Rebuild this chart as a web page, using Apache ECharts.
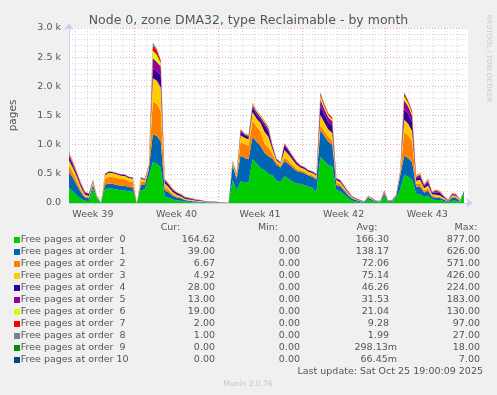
<!DOCTYPE html>
<html><head><meta charset="utf-8">
<script src="https://cdn.jsdelivr.net/npm/echarts@6/dist/echarts.min.js"></script>
<style>html,body{margin:0;padding:0;background:#f0f0f0;}#c{width:497px;height:395px;}</style>
</head><body><div id="c"></div>
<script>
// sample every 8 hours from the start of the graph
const order0 = [260,200,130,70,40,35,250,80,5,240,250,245,230,220,215,200,195,0,220,230,450,700,680,600,110,90,60,45,40,25,20,15,12,10,8,6,6,4,3,3,2,390,220,370,360,350,750,680,600,560,500,470,380,360,460,420,370,330,330,310,280,260,180,790,720,650,620,220,200,140,80,40,25,15,10,60,35,18,15,110,18,25,80,230,480,450,400,160,150,100,120,60,50,50,30,15,40,40,20,165];
const order1 = [270,230,170,110,55,45,60,20,5,75,85,80,80,75,80,75,72,0,90,80,120,480,470,460,110,90,65,50,40,25,20,15,12,10,8,6,6,4,3,3,2,260,190,450,410,400,380,370,380,300,300,290,280,250,260,250,240,220,200,200,190,190,220,460,430,400,380,90,85,70,55,35,25,15,10,35,20,10,10,50,10,12,30,240,330,320,300,120,130,80,90,45,40,35,25,10,50,45,15,39];
const order2 = [110,90,70,45,25,20,25,10,3,100,115,120,120,115,112,100,95,0,60,50,40,560,550,520,60,45,30,20,15,10,8,8,6,5,4,3,4,3,3,2,2,30,45,230,240,230,280,260,250,160,150,80,40,35,60,55,45,35,30,30,25,25,30,90,80,80,75,40,35,25,15,10,6,4,3,10,8,5,4,15,5,6,10,30,400,390,350,50,60,35,40,20,20,20,10,5,20,20,8,7];
const order3 = [90,80,70,45,25,20,30,10,3,60,70,65,62,58,57,55,53,0,50,35,25,400,400,400,60,45,35,25,20,15,12,12,10,8,6,5,8,4,3,3,2,25,30,110,110,110,150,140,140,200,180,80,35,30,130,110,90,75,50,45,40,40,40,170,150,130,125,40,35,25,18,12,8,5,4,10,7,5,4,15,5,6,10,30,220,200,180,50,60,40,50,25,30,25,15,6,20,20,8,5];
const order4 = [60,50,45,40,30,28,15,5,2,15,18,18,17,17,16,15,15,0,15,12,10,170,160,220,40,35,30,30,28,20,18,15,12,8,6,5,4,3,2,3,1,10,12,60,45,45,80,75,70,110,100,45,20,15,80,60,45,40,25,22,22,22,18,160,140,130,125,25,25,20,15,10,7,5,3,5,4,3,3,10,3,4,8,15,180,170,160,40,50,35,50,25,45,40,20,6,15,15,4,28];
const order5 = [45,35,30,25,15,14,10,3,1,6,8,8,7,7,7,7,7,0,8,7,8,170,160,140,25,20,17,15,13,10,10,8,7,5,4,3,3,2,2,2,1,8,10,30,20,20,40,40,40,50,45,20,8,6,25,22,18,12,10,8,8,8,7,110,90,80,75,15,13,12,10,7,5,3,2,4,3,2,2,8,2,3,5,8,150,130,110,30,40,25,35,15,30,25,12,4,12,10,3,13];
const order6 = [25,20,15,10,6,5,6,1,1,2,3,3,3,2,2,2,2,0,5,4,4,130,120,60,10,10,8,6,6,4,5,5,4,3,3,2,4,2,1,1,0,5,8,12,8,8,20,20,18,25,20,10,4,3,10,8,7,5,3,3,3,3,3,60,45,35,35,6,5,5,4,4,3,2,2,3,2,1,1,6,1,2,4,4,70,55,40,15,20,10,15,6,10,10,5,2,8,6,1,19];
const order7 = [12,10,6,3,2,2,3,1,0,1,1,1,1,1,1,1,1,0,2,2,2,95,85,40,5,5,5,4,3,1,2,2,2,1,1,0,0,0,0,0,0,2,3,5,4,4,10,10,8,10,10,3,2,1,4,4,4,2,2,2,2,2,2,40,30,25,25,3,2,3,3,2,1,1,1,3,1,1,1,4,1,2,3,3,50,35,30,5,10,5,10,4,5,5,3,2,5,4,1,2];
const order8 = [8,5,4,2,2,1,1,0,0,1,0,0,0,0,0,0,0,0,0,0,1,20,15,10,0,0,0,0,0,0,0,0,0,0,0,0,0,0,0,0,0,0,2,3,3,3,5,5,4,5,5,2,1,0,1,1,1,1,0,0,0,0,0,15,10,10,10,1,0,0,0,0,0,0,0,0,0,0,0,2,0,0,0,0,15,10,10,0,0,0,0,0,0,0,0,0,0,0,0,1];
const order9 = [0,0,0,0,0,0,0,0,0,0,0,0,0,0,0,0,0,0,0,0,0,15,8,0,0,0,0,0,0,0,0,0,0,0,0,0,0,0,0,0,0,0,0,0,0,0,5,0,0,0,0,0,0,0,0,0,0,0,0,0,0,0,0,5,5,0,0,0,0,0,0,0,0,0,0,0,0,0,0,0,0,0,0,0,5,0,0,0,0,0,0,0,0,0,0,0,0,0,0,0];
const order10 = [0,0,0,0,0,0,0,0,0,0,0,0,0,0,0,0,0,0,0,0,0,7,2,0,0,0,0,0,0,0,0,0,0,0,0,0,0,0,0,0,0,0,0,0,0,0,0,0,0,0,0,0,0,0,0,0,0,0,0,0,0,0,0,0,0,0,0,0,0,0,0,0,0,0,0,0,0,0,0,0,0,0,0,0,0,0,0,0,0,0,0,0,0,0,0,0,0,0,0,0];

const seriesNames = ['Free pages at order  0','Free pages at order  1','Free pages at order  2','Free pages at order  3','Free pages at order  4','Free pages at order  5','Free pages at order  6','Free pages at order  7','Free pages at order  8','Free pages at order  9','Free pages at order 10'];
const colors = ['#00CC00','#0066B3','#FF8000','#FFCC00','#330099','#990099','#CCFF00','#FF0000','#808080','#008F00','#00487D'];
const curVals = ['164.62','39.00','6.67','4.92','28.00','13.00','19.00','2.00','1.00','0.00','0.00'];
const minVals = ['0.00','0.00','0.00','0.00','0.00','0.00','0.00','0.00','0.00','0.00','0.00'];
const avgVals = ['166.30','138.17','72.06','75.14','46.26','31.53','21.04','9.28','1.99','298.13m','66.45m'];
const maxVals = ['877.00','626.00','571.00','426.00','224.00','183.00','130.00','97.00','27.00','18.00','7.00'];
const weekTicks = [48,216,384,552,720];
const weekNames = ['Week 39','Week 40','Week 41','Week 42','Week 43'];
const titleText = 'Node 0, zone DMA32, type Reclaimable - by month';
const lastUpdate = 'Last update: Sat Oct 25 19:00:09 2025';

// sample times (hours from graph start), one extra empty slot to reach the right edge
const hours = [];
for (let i = 0; i <= order0.length; i++) hours.push(String(i * 8));
const orders = [order0,order1,order2,order3,order4,order5,order6,order7,order8,order9,order10];

const FONT = '"DejaVu Sans", sans-serif';
const TXT = '#555';
const G = '#d6d6d6', R = '#f0a8a8', N = 'rgba(0,0,0,0)';
const vColors = [N,G,N,G,N,G,N,G,N,G,N,R,N,G];

const graphics = [];
graphics.push({type:'text', x:488.5, y:58.5, rotation:-Math.PI/2, style:{text:'RRDTOOL / TOBI OETIKER', x:0, y:0, fill:'#c8c8c8', font:'6.8px '+FONT, align:'center', verticalAlign:'middle', textAlign:'center', textVerticalAlign:'middle'}});
[['Cur:',170.5],['Min:',268],['Avg:',367],['Max:',466]].forEach(h => {
  graphics.push({type:'text', style:{text:h[0], x:h[1], y:227.7, fill:TXT, font:'9.5px '+FONT, align:'center', verticalAlign:'middle', textAlign:'center', textVerticalAlign:'middle'}});
});
seriesNames.forEach((n, k) => {
  const yy = 240 + 12 * k;
  graphics.push({type:'rect', shape:{x:14, y:yy-3, width:6, height:6}, style:{fill:colors[k]}});
  graphics.push({type:'text', style:{text:n, x:20.7, y:yy, fill:TXT, font:'9.5px '+FONT, align:'left', verticalAlign:'middle', textAlign:'left', textVerticalAlign:'middle'}});
  const cols = [[curVals[k],215],[minVals[k],300],[avgVals[k],389],[maxVals[k],480]];
  cols.forEach(c => {
    const re = c[0].endsWith('m') ? c[1] + 8 : c[1];
    graphics.push({type:'text', style:{text:c[0], x:re, y:yy, fill:TXT, font:'9.5px '+FONT, align:'right', verticalAlign:'middle', textAlign:'right', textVerticalAlign:'middle'}});
  });
});
graphics.push({type:'text', style:{text:lastUpdate, x:483, y:371.7, fill:TXT, font:'9.5px '+FONT, align:'right', verticalAlign:'middle', textAlign:'right', textVerticalAlign:'middle'}});
graphics.push({type:'text', style:{text:'Munin 2.0.76', x:248, y:384.3, fill:'#c4c4c4', font:'7.5px '+FONT, align:'center', verticalAlign:'middle', textAlign:'center', textVerticalAlign:'middle'}});

const chart = echarts.init(document.getElementById('c'), null, {renderer:'canvas'});
chart.setOption({
  animation:false,
  backgroundColor:'#f0f0f0',
  title:{text:titleText, left:'center', top:14, padding:0, textStyle:{fontSize:12.5, color:TXT, fontWeight:'normal', fontFamily:FONT}},
  grid:{left:67, right:29, top:28, bottom:192, show:true, backgroundColor:'#ffffff', borderWidth:0},
  xAxis:[
    {type:'category', data:hours, boundaryGap:false, show:false},
    {type:'value', min:0, max:802, interval:12, position:'bottom',
      axisLine:{show:true, onZero:false, lineStyle:{color:'#c8cff0'}, symbol:['none','arrow'], symbolSize:[7,7], symbolOffset:[0,5]},
      axisTick:{show:false},
      axisLabel:{formatter:v => { const j = weekTicks.indexOf(v); return j >= 0 ? weekNames[j] : ''; }, color:TXT, fontSize:9.5, fontFamily:FONT, margin:6.5},
      splitLine:{show:true, showMaxLine:false, lineStyle:{color:vColors, type:[1,2], width:1}}
    }
  ],
  yAxis:{type:'value', min:0, max:3000, interval:500,
    name:'pages', nameLocation:'middle', nameGap:50, nameTextStyle:{color:TXT, fontSize:10.5, fontFamily:FONT},
    axisLine:{show:true, lineStyle:{color:'#c8cff0'}, symbol:['none','arrow'], symbolSize:[7,7], symbolOffset:[0,5]},
    axisTick:{show:false},
    axisLabel:{formatter:v => v === 0 ? '0.0' : (v/1000).toFixed(1) + ' k', color:TXT, fontSize:9.5, fontFamily:FONT, margin:8},
    splitLine:{show:true, lineStyle:{color:R, type:[1,2], width:1}},
    minorTick:{show:false, splitNumber:5},
    minorSplitLine:{show:true, lineStyle:{color:G, type:[1,2], width:1}}
  },
  series: orders.map((arr, k) => ({
    name: seriesNames[k], type:'line', stack:'all', symbol:'none', showSymbol:false,
    xAxisIndex:0, yAxisIndex:0,
    data: arr.slice(),
    lineStyle:{width:0}, areaStyle:{color:colors[k], opacity:1}, itemStyle:{color:colors[k]},
    z:2
  })),
  graphic: graphics
});
</script>
</body></html>
